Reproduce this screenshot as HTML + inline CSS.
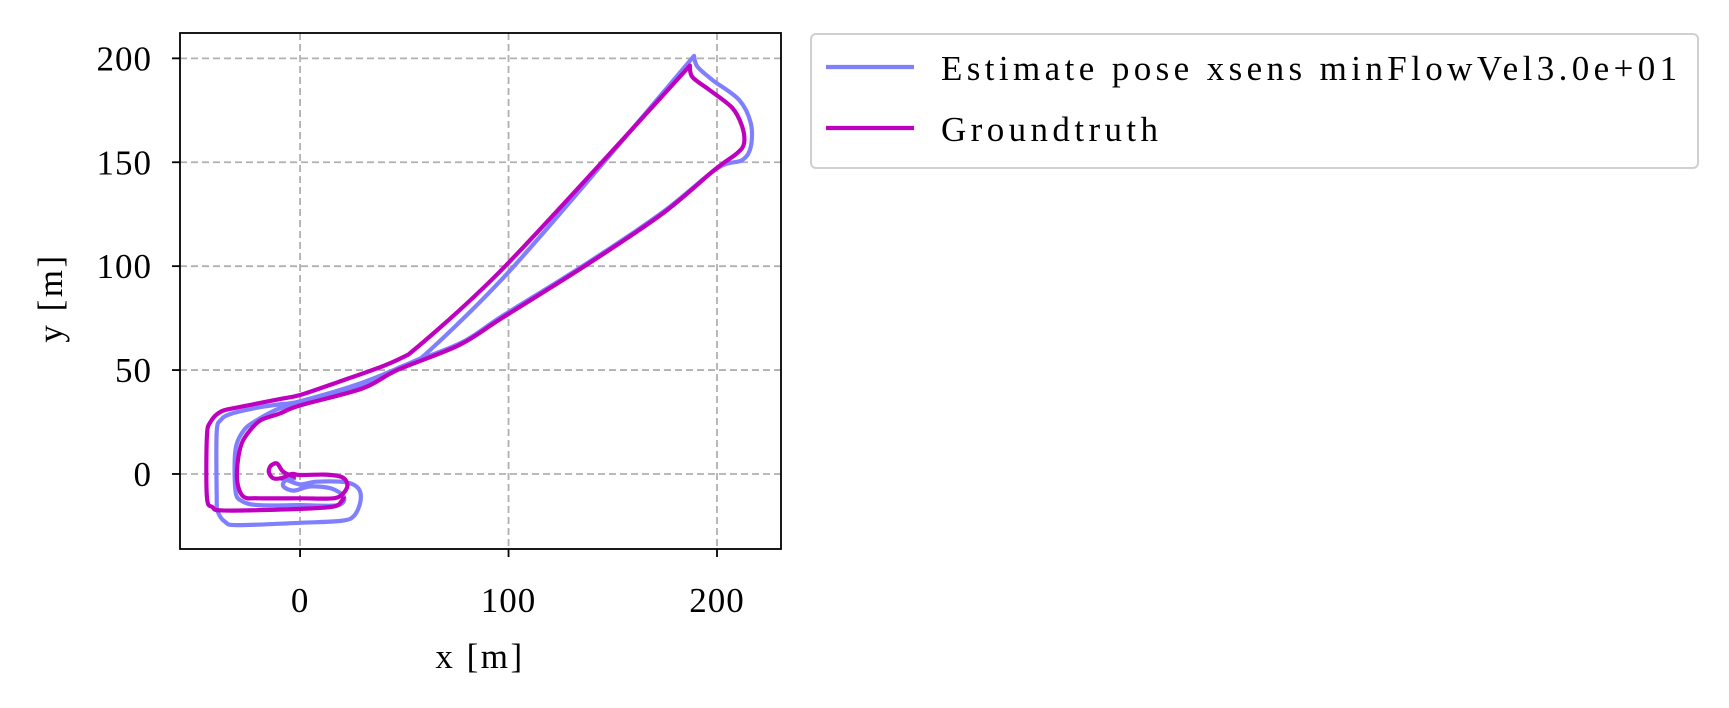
<!DOCTYPE html>
<html><head><meta charset="utf-8"><style>
html,body{margin:0;padding:0;background:#fff}
svg{display:block;font-family:"Liberation Serif",serif}
</style></head><body>
<svg id="chart" width="1729" height="708" viewBox="0 0 1729 708" xmlns="http://www.w3.org/2000/svg">
<g id="grid"></g>
<g id="series"></g>
<rect x="180" y="33" width="601" height="516" fill="none" stroke="#000" stroke-width="1.8"/>
<g id="ticks"></g>
<text x="480" y="668" font-size="35" letter-spacing="2.5" text-anchor="middle">x [m]</text>
<text transform="translate(62,298) rotate(-90)" font-size="35" letter-spacing="2.5" text-anchor="middle">y [m]</text>
<g>
<rect x="811" y="34" width="887" height="134" rx="5" fill="#fff" stroke="#d0d0d0" stroke-width="2"/>
<line x1="826" y1="67" x2="914" y2="67" stroke="#8080ff" stroke-width="4.2"/>
<text x="941" y="80" font-size="35" letter-spacing="4.4">Estimate pose xsens minFlowVel3.0e+01</text>
<line x1="826" y1="128" x2="914" y2="128" stroke="#bf00bf" stroke-width="4.2"/>
<text x="941" y="141" font-size="35" letter-spacing="4.4">Groundtruth</text>
</g>
</svg>
<script>
const xTicks = [0, 100, 200];
const yTicks = [0, 50, 100, 150, 200];
const estimateX = [-10,-6,0,8,22,28,29,26,20,0,-30,-36,-39.5,-40,-40,-38,-33,-20,-10,0,30,58,58,102.6,189,189,190.6,197.8,210.6,216.2,216.2,212,200,174,137,97,77,47,30,0,-10,-20.5,-27,-31,-31,-28,-20,0,18,21,15,5,-3,-8,-7,-2];
const estimateY = [-2,-3,-5,-3.7,-4,-7,-13,-20,-22.5,-23.5,-24.6,-23,-18,-10,20,26,29,32,33.5,35,44,55.7,55.7,100,201.2,201.2,196,189.6,180,168.8,157.5,151,147,126,101,76,63,51,42,34,31.5,26,21,11.5,-8,-13,-15,-15,-15,-11,-7,-6,-8,-6,-3,-2];
const truthX = [-2,-8,-11,-14,-15,-13,-9,-4,0,12,20,22.7,21,16,0,-20,-27,-30,-30,-28,-24,-18.7,-10,0,30,46.6,76.3,96.8,136.5,173.5,199,209.8,213,212,207.3,196.1,188.2,187,187,98.4,52,52,40,18.7,0,-10,-30,-38,-43,-44.7,-44.7,-42,-36,0,16,20,21];
const truthY = [-1.5,1,5,4,1,-2,-2,0,-0.5,-0.3,-1.5,-5,-9,-11.7,-11.7,-11.7,-11,-4.5,5,14.7,21,26,29,33,41.2,50,62,75,100,125,146.5,154.5,159.3,167.4,176.2,185,191,196.5,196.5,100,57.5,57.5,52,44.4,38,36,32,30,25,18,-11,-16,-17.6,-16.8,-15.7,-13,-10.8];

const X0=180,X1=781,Y0=33,Y1=549, xmin=-57.6,xmax=230.7,ymin=-36.1,ymax=212.2;
const sx=v=>X0+(v-xmin)/(xmax-xmin)*(X1-X0);
const sy=v=>Y1-(v-ymin)/(ymax-ymin)*(Y1-Y0);
const NS='http://www.w3.org/2000/svg';
const grid=document.getElementById('grid'), ticks=document.getElementById('ticks'), series=document.getElementById('series');
function mk(tag,attrs,parent){const e=document.createElementNS(NS,tag);for(const k in attrs)e.setAttribute(k,attrs[k]);parent.appendChild(e);return e;}
xTicks.forEach(t=>{
  const g=mk('line',{x1:sx(t),x2:sx(t),y1:Y0,y2:Y1,stroke:'#b0b0b0','stroke-width':1.8,'stroke-dasharray':'7,4'},grid);
  
  
  const tk=mk('line',{x1:sx(t),x2:sx(t),y1:Y1,y2:Y1+8,stroke:'#000','stroke-width':1.8},ticks);
  
  
  const lb=mk('text',{x:sx(t),y:Y1+63,'font-size':35,'letter-spacing':1,'text-anchor':'middle'},ticks);lb.textContent=t;
  
  
});
yTicks.forEach(t=>{
  const g=mk('line',{x1:X0,x2:X1,y1:sy(t),y2:sy(t),stroke:'#b0b0b0','stroke-width':1.8,'stroke-dasharray':'7,4'},grid);
  
  
  const tk=mk('line',{x1:X0-8,x2:X0,y1:sy(t),y2:sy(t),stroke:'#000','stroke-width':1.8},ticks);
  
  
  const lb=mk('text',{x:X0-28,y:sy(t)+12,'font-size':35,'letter-spacing':1,'text-anchor':'end'},ticks);lb.textContent=t;
  
  
});
function pathOf(xs,ys){
  const p=xs.map((x,i)=>[sx(x),sy(ys[i])]);
  const n=p.length, t=0.16;
  const same=(u,v)=>u[0]===v[0]&&u[1]===v[1];
  const tan=p.map((q,i)=>{
    if(i===0||i===n-1) return [0,0];
    if(same(q,p[i-1])||same(q,p[i+1])) return [0,0];
    return [(p[i+1][0]-p[i-1][0])*t,(p[i+1][1]-p[i-1][1])*t];
  });
  let d='M'+p[0][0]+','+p[0][1];
  for(let i=0;i<n-1;i++){
    const b=p[i],c=p[i+1];
    if(same(b,c)) continue;
    d+=' C'+(b[0]+tan[i][0])+','+(b[1]+tan[i][1])+' '+(c[0]-tan[i+1][0])+','+(c[1]-tan[i+1][1])+' '+c[0]+','+c[1];
  }
  return d;
}
const est=mk('path',{d:pathOf(estimateX,estimateY),fill:'none',stroke:'#8080ff','stroke-width':4.2,'stroke-linejoin':'round'},series);


const gt=mk('path',{d:pathOf(truthX,truthY),fill:'none',stroke:'#bf00bf','stroke-width':4.2,'stroke-linejoin':'round'},series);


</script>
</body></html>
